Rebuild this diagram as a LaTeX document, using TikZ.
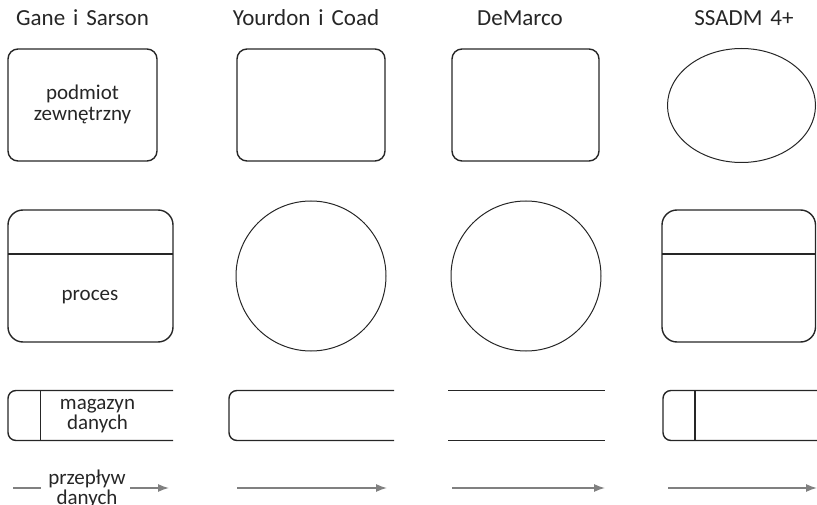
\documentclass[tikz,border=0pt]{standalone}
\usepackage{fontspec}
\setmainfont{Carlito}
\usetikzlibrary{arrows.meta,shapes.geometric}
\definecolor{ink}{HTML}{262626}
\definecolor{flow}{HTML}{808080}
\tikzset{
  shapeline/.style={draw=ink,line width=1.4pt},
  thinline/.style={draw=ink,line width=1pt},
  title/.style={font=\fontsize{23}{26}\selectfont,text=ink,anchor=base,inner sep=0pt},
  label/.style={font=\fontsize{21}{20.5}\selectfont,text=ink,align=center,inner sep=0pt},
  flowarrow/.style={draw=flow,line width=1.4pt,-{Latex[length=11pt,width=8pt]}},
  flowline/.style={draw=flow,line width=1.4pt},
}
\begin{document}
\begin{tikzpicture}[x=1pt,y=-1pt]
\useasboundingbox (0,0) rectangle (817,505);
% titles
\node[title] (t1) at (82.5,26) {Gane\hspace{0.12em} i\hspace{0.12em} Sarson};
\node[title] (t2) at (306,26) {Yourdon\hspace{0.12em} i\hspace{0.12em} Coad};
\node[title] (t3) at (520,26) {DeMarco};
\node[title] (t4) at (744,26) {SSADM\hspace{0.12em} 4+};
% row 1: external entity
\draw[shapeline,rounded corners=10pt] (8,49) rectangle (157,161);
\node[label] (ent1) at (82.5,104.5) {podmiot\\zewnętrzny};
\draw[shapeline,rounded corners=10pt] (237,49) rectangle (385,161);
\draw[shapeline,rounded corners=10pt] (452,49) rectangle (599,161);
\node[ellipse,thinline,minimum width=148pt,minimum height=114pt,inner sep=0pt] (ent4) at (741.5,105.5) {};
% row 2: process
\draw[shapeline,rounded corners=15pt] (8,210) rectangle (173,342);
\draw[shapeline] (8,254) -- (173,254);
\node[label,anchor=base] (proc1) at (90,301) {proces};
\node[circle,thinline,minimum size=150pt,inner sep=0pt] (proc2) at (311,276) {};
\node[circle,thinline,minimum size=150pt,inner sep=0pt] (proc3) at (526,276) {};
\draw[shapeline,rounded corners=15pt] (662,210) rectangle (815.5,342);
\draw[shapeline] (662,254) -- (815.5,254);
% row 3: data store
\draw[shapeline,rounded corners=8pt] (173,390.5) -- (8,390.5) -- (8,440.5) -- (173,440.5);
\draw[shapeline] (40.5,390.5) -- (40.5,440.5);
\node[label] (store1) at (97.5,416) {magazyn\\danych};
\draw[shapeline,rounded corners=8pt] (394,390.5) -- (229,390.5) -- (229,440.5) -- (394,440.5);
\draw[shapeline] (448,390.5) -- (605,390.5);
\draw[shapeline] (448,440.5) -- (605,440.5);
\draw[shapeline,rounded corners=8pt] (817,390.5) -- (663,390.5) -- (663,440.5) -- (817,440.5);
\draw[shapeline] (695,390.5) -- (695,440.5);
% row 4: data flow
\coordinate (f1a) at (13,488);
\coordinate (f1b) at (41,488);
\coordinate (f1c) at (130,488);
\coordinate (f1d) at (169,488);
\node[label] (flow1) at (87,489) {przepływ\\danych};
\draw[flowline] (f1a) -- (f1b);
\draw[flowarrow] (f1c) -- (f1d);
\coordinate (f2a) at (237,488);
\coordinate (f2b) at (387,488);
\draw[flowarrow] (f2a) -- (f2b);
\coordinate (f3a) at (452,488);
\coordinate (f3b) at (605,488);
\draw[flowarrow] (f3a) -- (f3b);
\coordinate (f4a) at (668,488);
\coordinate (f4b) at (817,488);
\draw[flowarrow] (f4a) -- (f4b);
\end{tikzpicture}
\end{document}
